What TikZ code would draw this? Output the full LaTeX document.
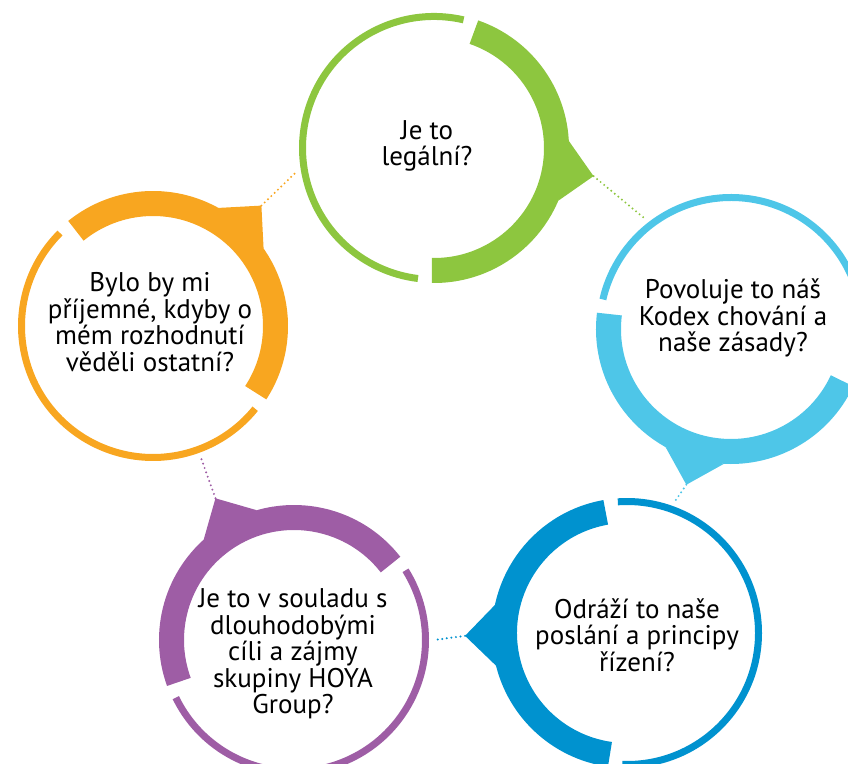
\documentclass[tikz,border=0pt]{standalone}
\usepackage{fontspec}
\setmainfont{PT Sans}
\usepackage{tikz}
\usetikzlibrary{calc}
\usepackage{xcolor}
\definecolor{hgreen}{RGB}{141,198,63}
\definecolor{hsky}{RGB}{78,198,232}
\definecolor{hblue}{RGB}{0,146,207}
\definecolor{hpurple}{RGB}{158,93,165}
\definecolor{horange}{RGB}{248,166,32}
\tikzstyle{ring} = [circle, minimum size=280pt, inner sep=0pt]
\tikzstyle{question} = [align=center, inner sep=0pt, font=\fontsize{27}{26.5}\selectfont]
\tikzstyle{thinring} = [line width=7pt]
\tikzstyle{thickring} = [line width=25pt]
\tikzstyle{linkdots} = [line width=2.2pt, line cap=round, dash pattern=on 0pt off 4.6pt]
% ring around node #1 in colour #2, pointer at angle #3
\newcommand{\talkring}[3]{%
  \draw[thinring, #2] ($(#1)+(#3+87:131.5)$) arc[start angle=#3+87, end angle=#3+273, radius=131.5];
  \draw[thickring, #2] ($(#1)+(#3-81:122.5)$) arc[start angle=#3-81, end angle=#3+81, radius=122.5];
  \fill[#2] ($(#1)+(#3-13:135)$) -- ($(#1)+(#3:162)$) -- ($(#1)+(#3+13:135)$) -- cycle;
  \coordinate (#1tip) at ($(#1)+(#3:162)$);
}
\begin{document}
\begin{tikzpicture}[x=1pt, y=1pt]
\useasboundingbox (0,0) rectangle (848,763);

% Circles
\node[ring] (legal) at (434,615) {};
\node[ring] (kodex) at (731,434) {};
\node[ring] (mission) at (627,130) {};
\node[ring] (group) at (294,123) {};
\node[ring] (others) at (153,437) {};

\talkring{legal}{hgreen}{-10}
\talkring{kodex}{hsky}{254}
\talkring{mission}{hblue}{181}
\talkring{group}{hpurple}{119}
\talkring{others}{horange}{48}

% Questions
\node[question] (legalq) at (427,617) {Je to\\legální?};
\node[question] (kodexq) at (733,445) {Povoluje to náš\\Kodex chování a\\naše zásady?};
\node[question] (missionq) at (637,128) {Odráží to naše\\poslání a principy\\řízení?};
\node[question] (groupq) at (293,109) {Je to v souladu s\\dlouhodobými\\cíli a zájmy\\skupiny HOYA\\Group?};
\node[question] (othersq) at (150,441) {Bylo by mi\\příjemné, kdyby o\\mém rozhodnutí\\věděli ostatní?};

% Dotted links
\draw[linkdots, hgreen] (legaltip) -- (kodex.128);
\draw[linkdots, hsky] (kodextip) -- (mission.70);
\draw[linkdots, hblue] (missiontip) -- (group.0);
\draw[linkdots, hpurple] (grouptip) -- (others.290);
\draw[linkdots, horange] (otherstip) -- (legal.190);
\end{tikzpicture}
\end{document}
